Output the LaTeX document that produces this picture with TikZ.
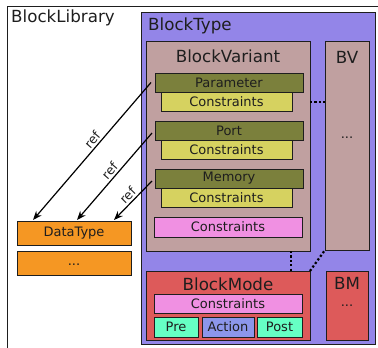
\documentclass[tikz,border=0pt]{standalone}
\usepackage{fontspec}
\setmainfont{DejaVu Sans}
\usetikzlibrary{arrows.meta,calc}
\definecolor{cblue}{RGB}{147,133,232}
\definecolor{crose}{RGB}{192,160,160}
\definecolor{colive}{RGB}{123,128,60}
\definecolor{cyellow}{RGB}{214,210,96}
\definecolor{cpink}{RGB}{240,144,226}
\definecolor{cred}{RGB}{221,90,90}
\definecolor{cgreen}{RGB}{102,255,196}
\definecolor{caction}{RGB}{140,150,235}
\definecolor{corange}{RGB}{245,151,35}
\definecolor{ctext}{RGB}{30,30,30}
\tikzset{
  box/.style={draw=ctext, line width=0.8pt, inner sep=0pt, outer sep=0pt, text=ctext,
    font=\fontsize{13}{15}\selectfont},
  big/.style={inner sep=0pt, text=ctext, font=\fontsize{16.7}{20}\selectfont},
  small/.style={inner sep=0pt, text=ctext, font=\fontsize{13}{15}\selectfont},
  refarrow/.style={line width=1.2pt, -{Stealth[length=9pt,width=7pt]}},
  reflabel/.style={sloped, above, inner sep=2pt, text=ctext, font=\fontsize{12.5}{14}\selectfont},
  dotline/.style={line width=2.2pt, dash pattern=on 2.2pt off 2.2pt}
}
\begin{document}
\begin{tikzpicture}[x=1pt,y=-1pt]
\useasboundingbox (0,0) rectangle (378,348);
% BlockLibrary frame
\coordinate (libbl) at (7,348);
\coordinate (libtl) at (7,6);
\coordinate (libtr) at (378,6);
\draw[line width=1pt, draw=ctext] (libbl) -- (libtl) -- (libtr);
\node[big, anchor=west] (libtitle) at (11,18) {BlockLibrary};
% BlockType
\node[box, fill=cblue, minimum width=234pt, minimum height=332pt] (bt) at (258,178) {};
\node[big, anchor=west] (bttitle) at (148,26) {BlockType};
% BlockVariant
\node[box, fill=crose, minimum width=164pt, minimum height=210pt] (bv) at (228,146) {};
\node[big] (bvtitle) at (228,56) {BlockVariant};
% BV
\node[box, fill=crose, minimum width=44pt, minimum height=209pt] (bvx) at (347,145.5) {};
\node[big] (bvxtitle) at (347,57) {BV};
\node[small, anchor=base] (bvxdots) at (347,138) {...};
% Parameter
\node[box, fill=cyellow, minimum width=131pt, minimum height=19pt] (pc) at (226.5,101.5) {Constraints};
\node[box, fill=colive, minimum width=148pt, minimum height=19pt] (param) at (229,82.5) {Parameter};
% Port
\node[box, fill=cyellow, minimum width=131pt, minimum height=19pt] (portc) at (226.5,149.5) {Constraints};
\node[box, fill=colive, minimum width=148pt, minimum height=19pt] (port) at (229,130.5) {Port};
% Memory
\node[box, fill=cyellow, minimum width=131pt, minimum height=19pt] (memc) at (226.5,197.5) {Constraints};
\node[box, fill=colive, minimum width=148pt, minimum height=19pt] (mem) at (229,178.5) {Memory};
% variant constraints
\node[box, fill=cpink, minimum width=148pt, minimum height=20pt] (vc) at (228,227) {Constraints};
% BlockMode
\node[box, fill=cred, minimum width=164pt, minimum height=69pt] (bm) at (228,305.5) {};
\node[big] (bmtitle) at (228,284) {BlockMode};
\node[box, fill=cpink, minimum width=148pt, minimum height=19pt] (bmc) at (228,303.5) {Constraints};
\node[box, fill=cgreen, minimum width=44pt, minimum height=20pt] (pre) at (176,327) {Pre};
\node[box, fill=caction, minimum width=52pt, minimum height=20pt] (action) at (228,327) {Action};
\node[box, fill=cgreen, minimum width=45pt, minimum height=20pt] (post) at (279.5,327) {Post};
% BM
\node[box, fill=cred, minimum width=42pt, minimum height=69pt] (bmx) at (347,305.5) {};
\node[big] (bmxtitle) at (347,283) {BM};
\node[small, anchor=base] (bmxdots) at (347,306) {...};
% DataType
\node[box, fill=corange, minimum width=114pt, minimum height=24pt] (dt) at (74,233) {DataType};
\node[box, fill=corange, minimum width=114pt, minimum height=24pt] (dtx) at (74,263) {};
\node[small, anchor=base] (dtxdots) at (74,265) {...};
% dotted links
\draw[dotline] (bv.east |- 0,102) -- (bvx.west |- 0,102);
\draw[dotline] (bv.south -| 291,0) -- (bm.north -| 291,0);
\draw[dotline] (bm.north east) -- (bvx.south west);
% ref arrows
\draw[refarrow] ([xshift=-4pt]param.west) -- node[reflabel, pos=0.45] {ref} ([xshift=16pt,yshift=1pt]dt.north west);
\draw[refarrow] ([xshift=-3pt,yshift=-2.5pt]port.west) -- node[reflabel, pos=0.49] {ref} ([xshift=60pt,yshift=1pt]dt.north west);
\draw[refarrow] ([xshift=-3pt,yshift=-2.5pt]mem.west) -- node[reflabel, pos=0.5] {ref} ([xshift=97pt,yshift=1pt]dt.north west);
\end{tikzpicture}
\end{document}
